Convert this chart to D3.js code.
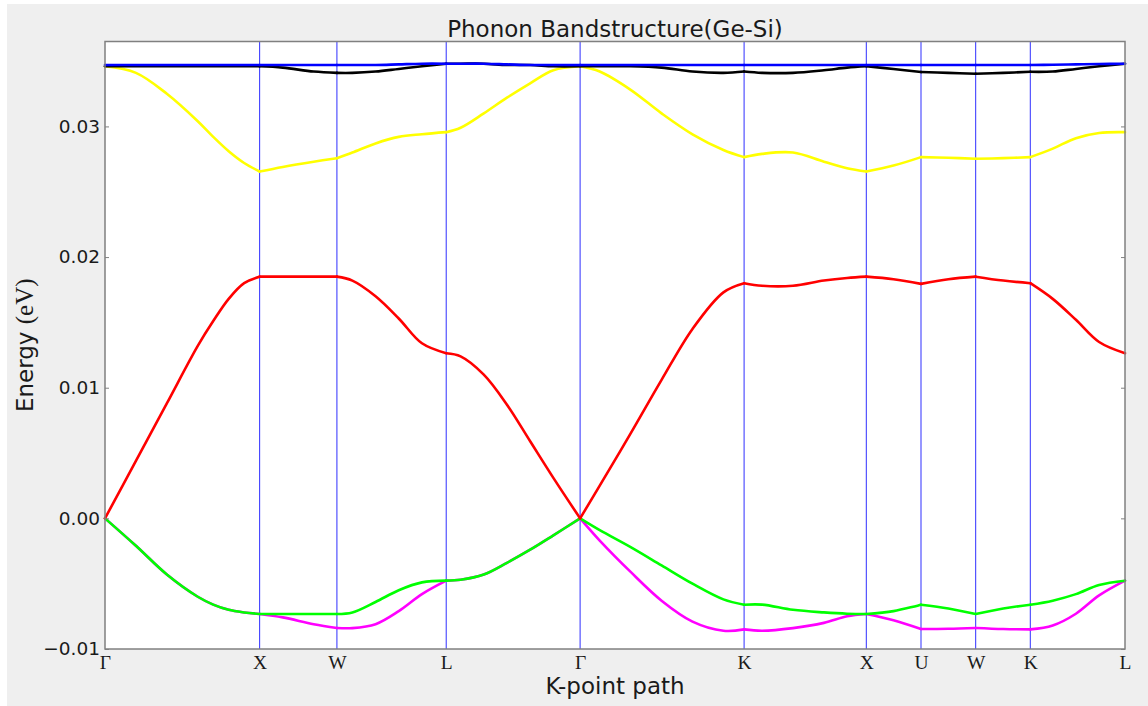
<!DOCTYPE html>
<html>
<head>
<meta charset="utf-8">
<script src="https://cdn.jsdelivr.net/npm/d3@7"></script>
<style>
  body { margin: 0; background: #ffffff; }
  svg { display: block; }
</style>
</head>
<body>
<svg id="chart" width="1148" height="706"></svg>
<script>
// High-symmetry points along the FCC path (distance in units of 2π/a)
const tickLabels = ["Γ", "X", "W", "L", "Γ", "K", "X", "U", "W", "K", "L"];
const tickK = [0, 1, 1.5, 2.2071, 3.0731, 4.1338, 4.9244, 5.2780, 5.6315, 5.9851, 6.5975];
const yTicks = [-0.01, 0.00, 0.01, 0.02, 0.03];

// Sampled k-points along the path
const kPoints = [
  0, 0.2, 0.4, 0.6, 0.7, 0.8, 0.9, 1.0,
  1.15, 1.35, 1.5,
  1.6, 1.75, 1.9, 2.05, 2.2071,
  2.3, 2.45, 2.6, 2.75, 2.9, 3.0731,
  3.2, 3.4, 3.6, 3.8, 4.0, 4.1338,
  4.25, 4.45, 4.65, 4.8, 4.9244,
  5.10, 5.2780,
  5.455, 5.6315,
  5.81, 5.9851,
  6.13, 6.28, 6.43, 6.5975
];

// Phonon energies (eV) for each branch at the sampled k-points
const band1 = [
  0, -0.0021, -0.0043, -0.0060, -0.0066, -0.0070, -0.0072, -0.00732,
  -0.00758, -0.0081, -0.00839,
  -0.0084, -0.0081, -0.0071, -0.0058, -0.00477,
  -0.0047, -0.0043, -0.0034, -0.0024, -0.0013, 0,
  -0.0017, -0.0041, -0.0063, -0.0079, -0.0086, -0.0085,
  -0.0086, -0.0084, -0.0080, -0.0075, -0.00732,
  -0.0078, -0.00847,
  -0.00845, -0.00839,
  -0.00847, -0.0085,
  -0.0082, -0.0073, -0.0059, -0.00477
];
const band2 = [
  0, -0.0021, -0.0043, -0.0060, -0.0066, -0.0070, -0.0072, -0.00732,
  -0.00732, -0.00732, -0.00732,
  -0.0072, -0.0064, -0.0055, -0.0049, -0.00477,
  -0.0047, -0.0043, -0.0034, -0.0024, -0.0013, 0,
  -0.0009, -0.0022, -0.0036, -0.0050, -0.0062, -0.00661,
  -0.0066, -0.0070, -0.0072, -0.0073, -0.00732,
  -0.0071, -0.00661,
  -0.0069, -0.00732,
  -0.0069, -0.00661,
  -0.0063, -0.0058, -0.0051, -0.00477
];
const band3 = [
  0, 0.0044, 0.0088, 0.0132, 0.0151, 0.0168, 0.0180, 0.0185,
  0.0185, 0.0185, 0.0185,
  0.0182, 0.0170, 0.0153, 0.0134, 0.01264,
  0.0124, 0.0110, 0.0087, 0.0059, 0.0031, 0,
  0.0025, 0.0065, 0.0106, 0.0145, 0.0173, 0.0180,
  0.0178, 0.0178, 0.0182, 0.0184, 0.0185,
  0.0183, 0.01795,
  0.0183, 0.0185,
  0.0182, 0.0180,
  0.0168, 0.0152, 0.0135, 0.01264
];
const band4 = [
  0.0346, 0.0341, 0.0325, 0.0304, 0.0292, 0.0281, 0.0272, 0.02655,
  0.0269, 0.0273, 0.02757,
  0.0280, 0.0287, 0.0292, 0.0294, 0.02956,
  0.0299, 0.0310, 0.0322, 0.0333, 0.0343, 0.0346,
  0.0342, 0.0328, 0.0310, 0.0294, 0.0282, 0.02765,
  0.0279, 0.0280, 0.0273, 0.0268, 0.02655,
  0.0270, 0.02765,
  0.0276, 0.02752,
  0.02757, 0.02765,
  0.0283, 0.0291, 0.0295, 0.02956
];
const band5 = [
  0.0346, 0.0346, 0.0346, 0.0346, 0.0346, 0.0346, 0.0346, 0.0346,
  0.0345, 0.0342, 0.0341,
  0.0341, 0.0342, 0.0344, 0.0346, 0.0348,
  0.0348, 0.0348, 0.0347, 0.0347, 0.0346, 0.0346,
  0.0346, 0.0346, 0.0345, 0.0342, 0.0341, 0.0342,
  0.0341, 0.0341, 0.0343, 0.0345, 0.0346,
  0.0344, 0.03416,
  0.0341, 0.03403,
  0.0341, 0.03418,
  0.0342, 0.0344, 0.0346, 0.0348
];
const band6 = [
  0.0347, 0.0347, 0.0347, 0.0347, 0.0347, 0.0347, 0.0347, 0.0347,
  0.0347, 0.0347, 0.0347,
  0.0347, 0.0347, 0.03475, 0.0348, 0.0348,
  0.0348, 0.0348, 0.03475, 0.0347, 0.0347, 0.0347,
  0.0347, 0.0347, 0.0347, 0.0347, 0.0347, 0.0347,
  0.0347, 0.0347, 0.0347, 0.0347, 0.0347,
  0.0347, 0.0347,
  0.0347, 0.0347,
  0.0347, 0.0347,
  0.03472, 0.03475, 0.03478, 0.0348
];

const bands = [band1, band2, band3, band4, band5, band6];
const bandColors = ["#ff00ff", "#00ff00", "#ff0000", "#ffff00", "#000000", "#0000ff"];

const svg = d3.select("#chart");
const W = 1148, H = 706;
const margin = { left: 105, right: 23, top: 41.5, bottom: 57 };
const x0 = margin.left, x1 = W - margin.right;
const y0 = margin.top, y1 = H - margin.bottom;

// figure background
svg.append("rect").attr("x", 7).attr("y", 4).attr("width", W - 7).attr("height", H - 4)
  .attr("fill", "#efefef");
svg.append("rect").attr("x", x0).attr("y", y0).attr("width", x1 - x0).attr("height", y1 - y0)
  .attr("fill", "#ffffff");

const x = d3.scaleLinear().domain([0, tickK[tickK.length - 1]]).range([x0, x1]);
const y = d3.scaleLinear().domain([-0.01, 0.0365]).range([y1, y0]);

// vertical lines at the high-symmetry points
svg.append("g").selectAll("line")
  .data(tickK.slice(1, -1))
  .join("line")
  .attr("x1", d => x(d)).attr("x2", d => x(d))
  .attr("y1", y0).attr("y2", y1)
  .attr("stroke", "#0000ff").attr("stroke-opacity", 0.75).attr("stroke-width", 1.1);

// branches, drawn piecewise between high-symmetry points
const line = d3.line()
  .x(d => x(d[0]))
  .y(d => y(d[1]))
  .curve(d3.curveCatmullRom.alpha(0.5));

const eps = 1e-6;
const gBands = svg.append("g").attr("fill", "none");
bands.forEach((band, bi) => {
  for (let s = 0; s < tickK.length - 1; s++) {
    const pts = kPoints
      .map((k, i) => [k, band[i]])
      .filter(p => p[0] >= tickK[s] - eps && p[0] <= tickK[s + 1] + eps);
    gBands.append("path")
      .attr("d", line(pts))
      .attr("stroke", bandColors[bi])
      .attr("stroke-width", 2.6)
      .attr("stroke-linejoin", "round")
      .attr("stroke-linecap", "round");
  }
});

// axes
const yAxis = d3.axisLeft(y).tickValues(yTicks).tickFormat(d3.format(".2f"))
  .tickSize(-4).tickPadding(5);
const gy = svg.append("g").attr("transform", `translate(${x0},0)`).call(yAxis);
gy.select(".domain").remove();
gy.selectAll(".tick line").attr("stroke", "#808080");
gy.selectAll(".tick text").attr("font-family", "DejaVu Sans").attr("font-size", 18.5)
  .attr("fill", "#1a1a1a");

const yAxisR = d3.axisRight(y).tickValues(yTicks).tickSize(-4).tickFormat("");
const gyr = svg.append("g").attr("transform", `translate(${x1},0)`).call(yAxisR);
gyr.select(".domain").remove();
gyr.selectAll(".tick line").attr("stroke", "#808080");

const xAxis = d3.axisBottom(x).tickValues(tickK).tickFormat((d, i) => tickLabels[i])
  .tickSize(0).tickPadding(6);
const gx = svg.append("g").attr("transform", `translate(0,${y1})`).call(xAxis);
gx.select(".domain").remove();
gx.selectAll(".tick text").attr("font-family", "Liberation Serif").attr("font-size", 19.5)
  .attr("fill", "#1a1a1a");

// frame
svg.append("rect").attr("x", x0).attr("y", y0).attr("width", x1 - x0).attr("height", y1 - y0)
  .attr("fill", "none").attr("stroke", "#808080").attr("stroke-width", 1.5);

// titles
svg.append("text").attr("x", (x0 + x1) / 2).attr("y", 36.5)
  .attr("text-anchor", "middle").attr("font-family", "DejaVu Sans").attr("font-size", 23)
  .attr("fill", "#1a1a1a").text("Phonon Bandstructure(Ge-Si)");

svg.append("text").attr("x", (x0 + x1) / 2).attr("y", 694)
  .attr("text-anchor", "middle").attr("font-family", "DejaVu Sans").attr("font-size", 23)
  .attr("fill", "#1a1a1a").text("K-point path");

const yl = svg.append("text")
  .attr("transform", `translate(33,${(y0 + y1) / 2}) rotate(-90)`)
  .attr("text-anchor", "middle").attr("font-family", "DejaVu Sans").attr("font-size", 23)
  .attr("fill", "#1a1a1a");
yl.append("tspan").text("Energy ");
yl.append("tspan").attr("font-family", "Liberation Serif").attr("font-size", 25).text("(eV)");
</script>
</body>
</html>
